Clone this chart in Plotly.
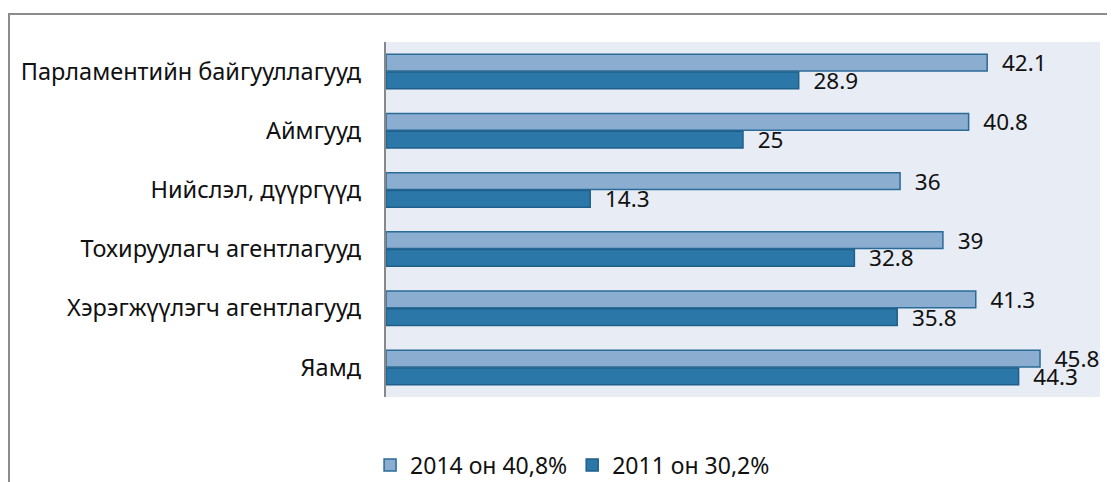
import plotly.graph_objects as go

categories = ["Парламентийн байгууллагууд", "Аймгууд", "Нийслэл, дүүргүүд",
              "Тохируулагч агентлагууд", "Хэрэгжүүлэгч агентлагууд", "Яамд"]
values_2014 = [42.1, 40.8, 36, 39, 41.3, 45.8]
values_2011 = [28.9, 25, 14.3, 32.8, 35.8, 44.3]
series_names = ["2014 он 40,8%", "2011 он 30,2%"]

font_family = "Noto Sans, Open Sans, sans-serif"
pad = "\u00a0\u00a0"

fig = go.Figure()
fig.add_trace(go.Bar(
    y=categories, x=values_2014, name=series_names[0], orientation="h",
    marker=dict(color="#8aadd0", line=dict(color="#2a6b98", width=1.5)),
    text=[pad + f"{v:g}" for v in values_2014], textposition="outside",
    constraintext="none",
    textfont=dict(size=22.5, color="#111111"), cliponaxis=False,
))
fig.add_trace(go.Bar(
    y=categories, x=values_2011, name=series_names[1], orientation="h",
    marker=dict(color="#2b78a8", line=dict(color="#1f5f8b", width=1.5)),
    text=[pad + f"{v:g}" for v in values_2011], textposition="outside",
    constraintext="none",
    textfont=dict(size=22.5, color="#111111"), cliponaxis=False,
))

# page has an 8px body margin, so the figure is 8px smaller than the window
W, H = 1107, 474
L, R, T, B = 378, 15, 34, 85
pw, ph = W - L - R, H - T - B

fig.update_layout(
    width=W, height=H,
    margin=dict(l=L, r=R, t=T, b=B, autoexpand=False),
    paper_bgcolor="white", plot_bgcolor="#e8ecf4",
    barmode="group", bargap=0.4, bargroupgap=0.06,
    font=dict(family=font_family, size=22, color="#111111"),
    showlegend=True,
    legend=dict(orientation="h", xref="container", yref="container",
                x=0.51, xanchor="center", y=0.036, yanchor="middle",
                font=dict(size=23), traceorder="normal"),
    xaxis=dict(range=[0, 50], showgrid=False, showticklabels=False, zeroline=False,
               fixedrange=True, automargin=False),
    yaxis=dict(autorange="reversed", showgrid=False, showline=True, automargin=False,
               linecolor="#888888", linewidth=2, ticks="", ticksuffix="   ",
               tickfont=dict(size=23.5)),
    shapes=[dict(type="rect", xref="paper", yref="paper",
                 x0=(1 - L) / pw, x1=1 + (R + 10) / pw, y0=-(B + 10) / ph,
                 y1=1 + 28 / ph,
                 line=dict(color="#8c8c8c", width=2), fillcolor="rgba(0,0,0,0)",
                 layer="below")],
)

fig.write_html("out.html")
